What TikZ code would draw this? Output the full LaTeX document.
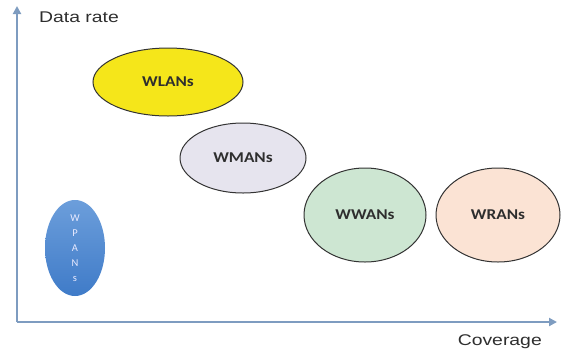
\documentclass[tikz,border=0pt]{standalone}
\usepackage{fontspec}
\setmainfont{Liberation Sans}[FakeStretch=1.25]
\newfontfamily\calib{Carlito}[FakeStretch=1.15]
\newfontfamily\calibn{Carlito}
\usetikzlibrary{arrows.meta,shapes.geometric}
\definecolor{axiscol}{HTML}{7E9CC0}
\definecolor{wlan}{HTML}{F5E61A}
\definecolor{wman}{HTML}{E6E4EE}
\definecolor{wwan}{HTML}{CDE6D2}
\definecolor{wran}{HTML}{FBE3D4}
\definecolor{wpanA}{HTML}{6C9EDB}
\definecolor{wpanB}{HTML}{3F7BC8}
\definecolor{txt}{HTML}{2E2E2E}
\tikzset{
  net/.style={ellipse, draw=black!80, line width=1pt, inner sep=0pt, font=\calib\bfseries\fontsize{15}{17}\selectfont, text=txt},
  axis/.style={draw=axiscol, line width=2.2pt, -{Triangle[length=8pt,width=8pt]}},
  axlabel/.style={font=\fontsize{15.5}{17}\selectfont, text=txt, inner sep=0pt}
}
\begin{document}
\begin{tikzpicture}[x=1pt,y=-1pt]
\useasboundingbox (0,0) rectangle (561,354);
\coordinate (o) at (17,322);
\coordinate (ytop) at (17,6);
\coordinate (xend) at (557,322);
\draw[axis] (o) -- (ytop);
\draw[axis] (o) -- (xend);
\node[axlabel, anchor=west] (yl) at (39,17) {Data rate};
\node[axlabel, anchor=east] (xl) at (542,342) {Coverage};
\node[net, fill=wlan, minimum width=150pt, minimum height=68pt] (wlan) at (168,82) {WLANs};
\node[net, fill=wman, minimum width=126pt, minimum height=70pt] (wman) at (243,158) {WMANs};
\node[net, fill=wwan, minimum width=122pt, minimum height=94pt] (wwan) at (365,215) {WWANs};
\node[net, fill=wran, minimum width=124pt, minimum height=94pt] (wran) at (498,215) {WRANs};
\node[ellipse, minimum width=60pt, minimum height=96pt, inner sep=0pt, top color=wpanA, bottom color=wpanB, text=white!92!blue, font=\calibn\fontsize{10.5}{15}\selectfont, align=center] (wpan) at (75,248) {W\\P\\A\\N\\s};
\end{tikzpicture}
\end{document}
